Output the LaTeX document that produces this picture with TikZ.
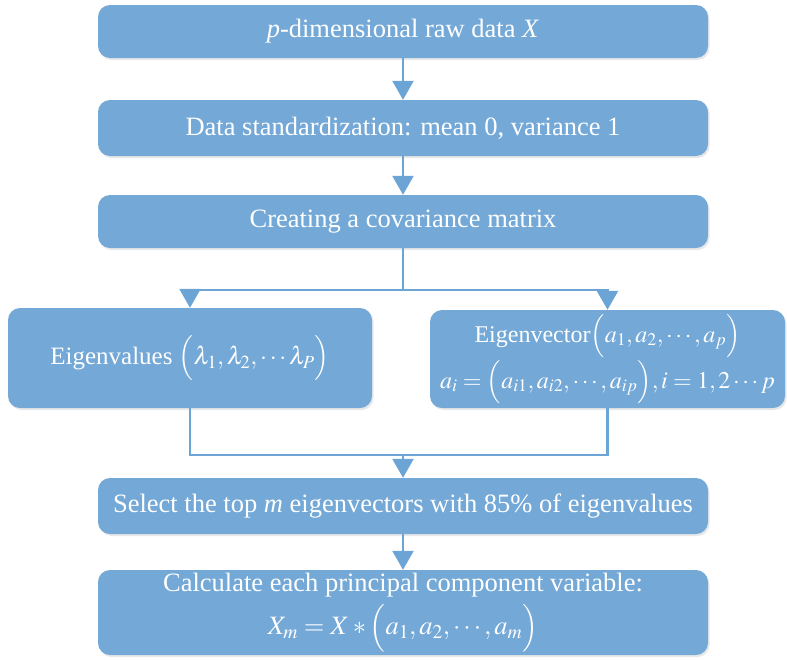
\documentclass[tikz,border=0pt]{standalone}
\usepackage{mathptmx}
\usepackage{fontspec}
\setmainfont{Liberation Serif}
\usetikzlibrary{arrows.meta}
\usetikzlibrary{shadows}

\definecolor{stepblue}{RGB}{115,168,215}
\definecolor{lineblue}{RGB}{108,164,214}

\tikzset{
  stepbox/.style={rectangle, rounded corners=12pt, fill=stepblue, text=white,
    inner sep=0pt, align=center,
    drop shadow={opacity=0.18, shadow xshift=1.5pt, shadow yshift=-2pt},
    font=\fontsize{26.5}{43}\selectfont},
  flow/.style={draw=lineblue, line width=2.6pt},
  arr/.style={flow, -{Triangle[width=21pt,length=19pt]}}
}

\begin{document}
\begin{tikzpicture}[x=1pt,y=-1pt]
  \useasboundingbox (0,0) rectangle (787,659);

  \node[stepbox, minimum width=610pt, minimum height=53pt] (raw) at (403,31.5)
    {\textit{p}-dimensional raw data \textit{X}};
  \node[stepbox, minimum width=610pt, minimum height=56pt] (std) at (403,128)
    {Data standardization: mean 0, variance 1};
  \node[stepbox, minimum width=610pt, minimum height=53pt] (cov) at (403,221.5)
    {Creating a covariance matrix};
  \node[stepbox, minimum width=364pt, minimum height=100pt,
        font=\fontsize{25}{42}\selectfont] (eval) at (190,358)
    {Eigenvalues $\Bigl(\lambda_1,\lambda_2,\cdots\lambda_P\Bigr)$};
  \node[stepbox, minimum width=355pt, minimum height=98pt,
        font=\fontsize{24}{46}\selectfont] (evec) at (607.5,359)
    {Eigenvector$\Bigl(a_1,a_2,\cdots,a_p\Bigr)$\\
     $a_i=\Bigl(a_{i1},a_{i2},\cdots,a_{ip}\Bigr),i=1,2\cdots p$};
  \node[stepbox, minimum width=610pt, minimum height=56pt] (sel) at (403,506)
    {Select the top \textit{m} eigenvectors with 85\% of eigenvalues};
  \node[stepbox, minimum width=610pt, minimum height=85pt] (calc) at (403,612.5)
    {Calculate each principal component variable:\\
     $X_m=X*\Bigl(a_1,a_2,\cdots,a_m\Bigr)$};

  \coordinate (split) at (403,290);
  \coordinate (merge) at (403,455);

  \draw[arr] (raw) -- (std);
  \draw[arr] (std) -- (cov);
  \draw[flow] (cov) -- (split);
  \draw[arr] (split) -| (eval);
  \draw[arr] (split) -| (evec);
  \draw[flow] (eval) |- (merge) -| (evec);
  \draw[arr] (merge) -- (sel);
  \draw[arr] (sel) -- (calc);
\end{tikzpicture}
\end{document}
